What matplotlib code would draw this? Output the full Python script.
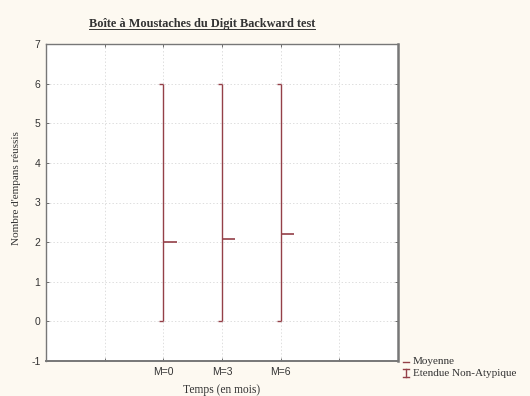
import numpy as np
import matplotlib
matplotlib.use('Agg')
import matplotlib.pyplot as plt
from matplotlib.lines import Line2D

# donnees
temps = ['M=0', 'M=3', 'M=6']
moyenne = [2.0, 2.08, 2.2]
mini = [0, 0, 0]
maxi = [6, 6, 6]

rouge = '#944048'
fond = '#fdf9f1'
serif = 'Liberation Serif'
sans = 'Liberation Sans'
texte = '#333333'

fig = plt.figure(figsize=(5.30, 3.96), dpi=100, facecolor=fond)
ax = fig.add_axes([46/530, 35/396, 352/530, 317/396])
ax.set_facecolor('white')

pos = np.arange(len(temps)) + 2
cap = 0.07
dash = 0.23
ax.vlines(pos, mini, maxi, color=rouge, lw=1.0)
ax.hlines(mini, pos - cap, pos, color=rouge, lw=1.0)
ax.hlines(maxi, pos - cap, pos, color=rouge, lw=1.0)
ax.hlines(moyenne, pos, pos + dash, color=rouge, lw=1.2)

ax.set_xlim(0, 6)
ax.set_ylim(-1, 7)
ax.set_xticks([1, 2, 3, 4, 5])
ax.set_xticklabels([''] + temps + [''], fontfamily=sans, fontsize=7.5, color=texte)
ax.set_yticks(range(-1, 8))
ax.set_yticklabels([str(v) for v in range(-1, 8)], fontfamily=sans, fontsize=7.5, color=texte)
ax.tick_params(direction='in', length=2.5, width=0.6, color='#555555',
               top=True, right=True, pad=4)
ax.grid(True, color='#d0d0d0', lw=0.5, ls=(0, (2, 3)))
for s in ax.spines.values():
    s.set_color('#777777')
    s.set_linewidth(1.0)
ax.spines['right'].set_linewidth(1.8)
ax.spines['bottom'].set_linewidth(1.4)

ax.set_xlabel('Temps (en mois)', fontfamily=serif, fontsize=8.3, color=texte, labelpad=5)
ax.set_ylabel("Nombre d'empans réussis", fontfamily=serif, fontsize=8, color=texte)
ax.yaxis.set_label_coords(-0.07, 0.546)

# titre souligne
t = fig.text(202/530, 1 - 27/396, 'Boîte à Moustaches du Digit Backward test',
             fontfamily=serif, fontsize=8.8, fontweight='bold', color=texte,
             ha='center', va='baseline')
fig.canvas.draw()
bb = t.get_window_extent().transformed(fig.transFigure.inverted())
fig.add_artist(Line2D([bb.x0, bb.x1], [1 - 29/396] * 2, color=texte, lw=0.7))

# legende
y1 = 1 - 362/396
y2 = 1 - 373/396
fig.add_artist(Line2D([403/530, 409/530], [y1, y1], color=rouge, lw=1.0))
fig.text(413/530, y1, 'Moyenne', fontfamily=serif, fontsize=8, color=texte, va='center')
xi = 406/530
fig.add_artist(Line2D([xi, xi], [y2 - 4/396, y2 + 4/396], color=rouge, lw=1.0))
fig.add_artist(Line2D([xi - 3/530, xi + 3/530], [y2 + 4/396] * 2, color=rouge, lw=1.0))
fig.add_artist(Line2D([xi - 3/530, xi + 3/530], [y2 - 4/396] * 2, color=rouge, lw=1.0))
fig.text(413/530, y2, 'Etendue Non-Atypique', fontfamily=serif, fontsize=8, color=texte, va='center')

plt.savefig('out.png', dpi=100, facecolor=fond)
